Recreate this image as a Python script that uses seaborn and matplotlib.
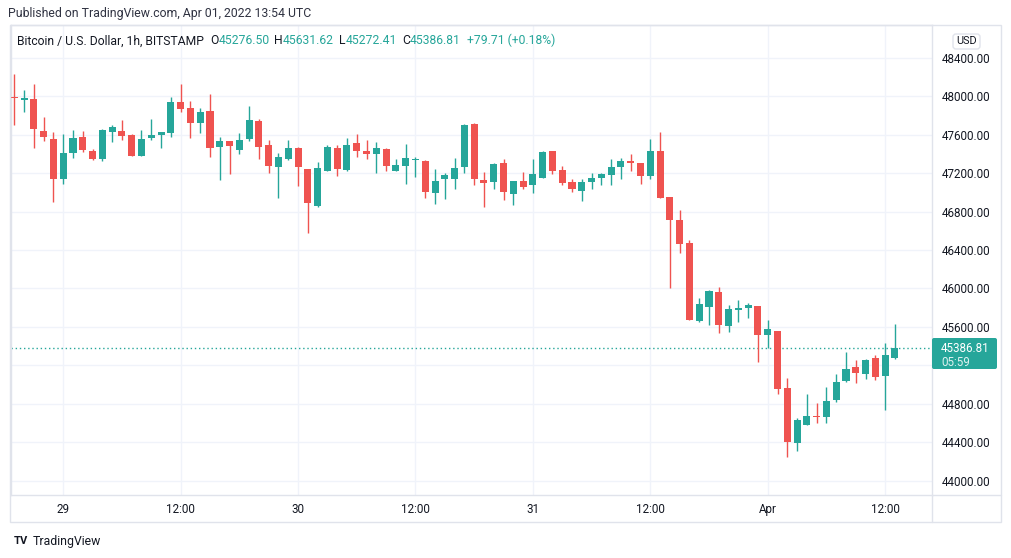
import matplotlib
matplotlib.use("Agg")
import matplotlib.pyplot as plt
import matplotlib.transforms as mtransforms
from matplotlib.patches import Rectangle, FancyBboxPatch
from matplotlib.lines import Line2D
import numpy as np
import seaborn as sns

# BTC/USD 1h candles (Bitstamp), 28 Mar 19:00 -> 01 Apr 13:00 UTC
opens = [47990, 47955, 47969, 47636, 47553, 47141, 47411, 47574, 47429, 47349,
         47629, 47636, 47595, 47380, 47567, 47598, 47619, 47934, 47875, 47723,
         47844, 47473, 47532, 47442, 47556, 47740, 47491, 47266, 47345, 47460,
         47242, 46860, 47221, 47460, 47231, 47512, 47429, 47401, 47449, 47224,
         47276, 47335, 47325, 46995, 47138, 47141, 47266, 47709, 47127, 47110,
         47304, 46985, 47117, 47078, 47151, 47429, 47231, 47110, 47016, 47110,
         47148, 47179, 47266, 47325, 47304, 47172, 47429, 46951, 46715, 46473,
         45665, 45811, 45964, 45613, 45780, 45801, 45818, 45520, 45558, 44966,
         44398, 44585, 44675, 44668, 44845, 45039, 45184, 45110, 45278, 45091,
         45276.50]
highs = [48229, 48062, 48125, 47782, 47626, 47605, 47647, 47636, 47449, 47657,
         47699, 47751, 47605, 47647, 47761, 47630, 47993, 48125, 47948, 47875,
         48021, 47574, 47532, 47616, 47896, 47761, 47543, 47411, 47543, 47467,
         47242, 47314, 47491, 47491, 47564, 47605, 47543, 47522, 47460, 47345,
         47501, 47366, 47335, 47242, 47200, 47356, 47709, 47719, 47210, 47307,
         47345, 47117, 47210, 47345, 47429, 47429, 47273, 47141, 47141, 47200,
         47200, 47345, 47356, 47397, 47304, 47553, 47626, 46951, 46819, 46504,
         45898, 45981, 46019, 45825, 45880, 45852, 45818, 45673, 45558, 45070,
         44654, 44904, 44810, 44977, 45110, 45340, 45257, 45267, 45309, 45434,
         45631.62]
lows = [47699, 47837, 47463, 47532, 46902, 47089, 47359, 47421, 47338, 47328,
        47525, 47546, 47380, 47380, 47546, 47463, 47577, 47837, 47567, 47619,
        47369, 47130, 47193, 47394, 47536, 47349, 47203, 46943, 47335, 47061,
        46580, 46850, 47221, 47169, 47221, 47366, 47345, 47203, 47224, 47224,
        47089, 47162, 46940, 46881, 46933, 47037, 47203, 47078, 46850, 47037,
        46923, 46871, 47037, 46995, 47151, 47193, 47078, 47006, 46912, 47037,
        47078, 47078, 47141, 47221, 47089, 47141, 46943, 46008, 46372, 45676,
        45655, 45624, 45541, 45551, 45655, 45697, 45239, 45385, 44907, 44252,
        44315, 44585, 44606, 44606, 44824, 45027, 45018, 45060, 45049, 44738,
        45272.41]
closes = [47980, 47980, 47660, 47574, 47141, 47408, 47564, 47442, 47349, 47647,
          47678, 47588, 47380, 47553, 47598, 47626, 47934, 47868, 47723, 47834,
          47463, 47532, 47484, 47543, 47751, 47473, 47276, 47366, 47460, 47266,
          46891, 47252, 47470, 47242, 47491, 47432, 47401, 47460, 47276, 47283,
          47356, 47345, 47006, 47117, 47179, 47252, 47699, 47141, 47099, 47293,
          47006, 47117, 47058, 47190, 47418, 47224, 47099, 47037, 47110, 47148,
          47190, 47262, 47325, 47304, 47172, 47429, 46943, 46715, 46465, 45676,
          45842, 45971, 45624, 45787, 45797, 45828, 45520, 45579, 44956, 44408,
          44634, 44675, 44665, 44831, 45027, 45163, 45122, 45254, 45081, 45309,
          45386.81]

time_ticks = [5, 17, 29, 41, 53, 65, 77, 89]
time_labels = ["29", "12:00", "30", "12:00", "31", "12:00", "Apr", "12:00"]
price_ticks = list(range(44000, 48401, 400))
hidden_tick = 45200          # sits under the last-price tag
change_text = "+79.71 (+0.18%)"
countdown = "05:59"

UP = "#26A69A"
DOWN = "#EF5350"
DARK = "#131722"
GRID = "#F0F3FA"
FRAME = "#E0E3EB"
FS = 8.4

sns.set_theme(style="white")
plt.rcParams["font.family"] = ["Roboto", "DejaVu Sans"]

W, H = 1012, 558
fig = plt.figure(figsize=(W / 100, H / 100), dpi=100)
fig.patch.set_facecolor("white")
# pixel coordinates, origin top-left
px = mtransforms.Affine2D().scale(1 / W, -1 / H).translate(0, 1) + fig.transFigure

ax = fig.add_axes([10.5 / W, 1 - 495 / H, (932 - 10.5) / W, (495 - 25) / H])
ax.set_facecolor("white")

o = np.array(opens, dtype=float)
c = np.array(closes, dtype=float)
idx = np.arange(len(o))
colors = np.where(c >= o, UP, DOWN)

ax.vlines(idx, lows, highs, colors=colors, lw=1.0, zorder=3)
mid = (o + c) / 2
body = np.maximum(np.abs(c - o), 12)
ax.bar(idx, body, bottom=mid - body / 2, width=0.72, color=colors, lw=0, zorder=4)

last_price = closes[-1]
ax.axhline(last_price, color=UP, lw=1.0, ls=(0, (1, 2)), zorder=2)

ax.set_xlim(-0.388, 93.79)
ax.set_ylim(43854.5, 48737.7)

ax.set_xticks(time_ticks, time_labels)
ax.set_yticks(price_ticks, ["" if p == hidden_tick else f"{p:.2f}" for p in price_ticks])
ax.yaxis.tick_right()
ax.tick_params(axis="y", length=0, pad=7, labelsize=FS, labelcolor=DARK)
ax.tick_params(axis="x", length=0, pad=6, labelsize=FS, labelcolor=DARK)
ax.grid(True, color=GRID, lw=1)
ax.set_axisbelow(True)
for s in ax.spines.values():
    s.set_color(FRAME)
    s.set_linewidth(1)

# outer frame of the widget
fig.add_artist(Rectangle((10, 25), 991, 497, transform=px, fill=False, ec=FRAME, lw=1))
fig.add_artist(Line2D([932, 1001], [495, 495], transform=px, color=FRAME, lw=1))
fig.add_artist(Line2D([932, 932], [495, 522], transform=px, color=FRAME, lw=1))

# last price tag
fig.add_artist(FancyBboxPatch((932, 338), 65, 31, boxstyle="round,pad=0,rounding_size=2",
                              transform=px, fc=UP, ec="none"))
fig.text(941, 348.5, f"{last_price:.2f}", transform=px, color="white", fontsize=FS, va="center")
fig.text(941, 362, countdown, transform=px, color="white", alpha=0.85, fontsize=FS, va="center")

# currency button
fig.add_artist(FancyBboxPatch((953, 34), 27, 15, boxstyle="round,pad=0,rounding_size=3",
                              transform=px, fc="white", ec=FRAME, lw=1))
fig.text(966.5, 41.5, "USD", transform=px, color=DARK, fontsize=7.8, ha="center", va="center")

# header and legend line
fig.text(8, 14, "Published on TradingView.com, Apr 01, 2022 13:54 UTC", transform=px,
         color="#2f3241", fontsize=8.85, va="center")

LFS = 8.7
legend = [("O", DARK, 6), (f"{opens[-1]:.2f}", UP, 0),
          ("H", DARK, 5), (f"{highs[-1]:.2f}", UP, 0),
          ("L", DARK, 5), (f"{lows[-1]:.2f}", UP, 0),
          ("C", DARK, 5), (f"{closes[-1]:.2f}", UP, 0),
          (change_text, UP, 6)]
prev = fig.text(17, 47.5, "Bitcoin / U.S. Dollar, 1h, BITSTAMP", transform=px, color=DARK,
                fontsize=LFS, va="bottom")
for txt, col, gap in legend:
    prev = ax.annotate(txt, xy=(1, 0), xycoords=prev, xytext=(gap * 0.72, 0),
                       textcoords="offset points", color=col, fontsize=LFS,
                       va="bottom", ha="left", annotation_clip=False)

# footer logo
fig.text(14, 541, "TV", transform=px, color=DARK, fontsize=8, fontweight="bold", va="center")
fig.text(33, 541, "TradingView", transform=px, color=DARK, fontsize=8.85, va="center")

fig.savefig("out.png", dpi=100, facecolor="white")
